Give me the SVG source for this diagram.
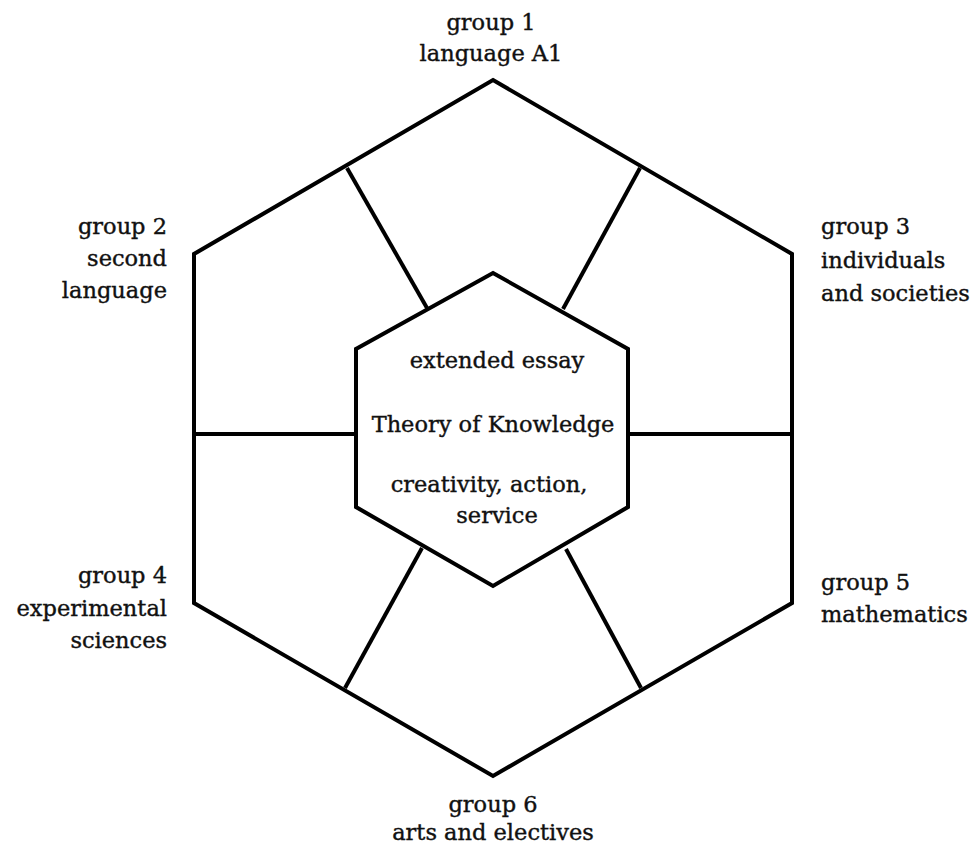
<svg xmlns="http://www.w3.org/2000/svg" width="973" height="848" viewBox="0 0 973 848">
<style>
.ln{fill:none;stroke:#000;stroke-width:4;stroke-linejoin:miter;stroke-linecap:butt}
.hx{fill:#fff;stroke:#000;stroke-width:4;stroke-linejoin:miter}
text{font-family:"DejaVu Serif","Liberation Serif",serif;font-size:22.5px;fill:#111;stroke:#111;stroke-width:0.4}
.m{text-anchor:middle}
.r{text-anchor:end}
.l{text-anchor:start}
</style>
<rect width="973" height="848" fill="#fff"/>
<g id="outer">
<polygon class="hx" points="493,80 792,254 792,603 493,776 194,603 194,254"/>
</g>
<g id="connectors">
<line class="ln" x1="347" y1="168" x2="427" y2="308"/>
<line class="ln" x1="640" y1="168" x2="563" y2="309"/>
<line class="ln" x1="194" y1="434" x2="356" y2="434"/>
<line class="ln" x1="628" y1="434" x2="792" y2="434"/>
<line class="ln" x1="345" y1="688" x2="422" y2="548"/>
<line class="ln" x1="641" y1="688" x2="566" y2="549"/>
</g>
<g id="core">
<polygon class="hx" points="493,273 628,349 628,507 493,586 356,507 356,349"/>
<text class="m" x="497" y="368">extended essay</text>
<text class="m" x="493" y="432">Theory of Knowledge</text>
<text class="m" x="489" y="492">creativity, action,</text>
<text class="m" x="497" y="523">service</text>
</g>
<g id="group1">
<text class="m" x="491" y="30">group 1</text>
<text class="m" x="491" y="61">language A1</text>
</g>
<g id="group2">
<text class="r" x="167" y="234">group 2</text>
<text class="r" x="167" y="266">second</text>
<text class="r" x="167" y="298">language</text>
</g>
<g id="group3">
<text class="l" x="821" y="234">group 3</text>
<text class="l" x="821" y="268">individuals</text>
<text class="l" x="821" y="301">and societies</text>
</g>
<g id="group4">
<text class="r" x="167" y="583">group 4</text>
<text class="r" x="167" y="616">experimental</text>
<text class="r" x="167" y="648">sciences</text>
</g>
<g id="group5">
<text class="l" x="821" y="590">group 5</text>
<text class="l" x="821" y="622">mathematics</text>
</g>
<g id="group6">
<text class="m" x="493" y="812">group 6</text>
<text class="m" x="493" y="840">arts and electives</text>
</g>
</svg>
